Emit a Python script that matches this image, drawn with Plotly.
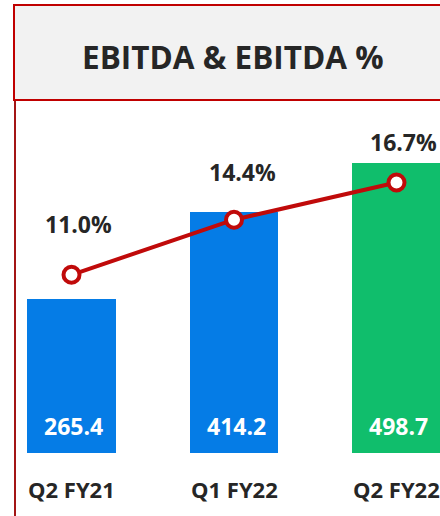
import plotly.graph_objects as go

categories = ["Q2 FY21", "Q1 FY22", "Q2 FY22"]
ebitda = [265.4, 414.2, 498.7]
ebitda_pct = [11.0, 14.4, 16.7]
bar_labels = ["265.4", "414.2", "498.7"]
pct_labels = ["11.0%", "14.4%", "16.7%"]
title_text = "EBITDA & EBITDA %"

# styles
W, H = 440, 516
bar_colors = ["#057CE6", "#057CE6", "#10BE6C"]
line_color = "#C00A0A"
text_color = "#262626"
font_family = "Open Sans"
pct_label_shift = [(7, 51), (8, 48), (7, 40)]  # (xshift, yshift) pixels
bar_label_shift = 27
cat_label_y_px = 489

x_pos = list(range(len(categories)))

fig = go.Figure()
fig.add_trace(go.Bar(
    x=x_pos, y=ebitda, width=0.547,
    marker=dict(color=bar_colors, line=dict(width=0)),
    hoverinfo="skip", showlegend=False,
))
fig.add_trace(go.Scatter(
    x=x_pos, y=ebitda_pct, yaxis="y2", mode="lines+markers",
    line=dict(color=line_color, width=4),
    marker=dict(size=16, color="white", line=dict(color=line_color, width=4)),
    hoverinfo="skip", showlegend=False,
))

annotations = []
# title
annotations.append(dict(
    text="<b>" + title_text + "</b>", x=233 / W, y=1 - 57 / H, xref="paper", yref="paper",
    showarrow=False, xanchor="center", yanchor="middle",
    font=dict(family=font_family, size=31.5, color=text_color),
))
for i, cat in enumerate(categories):
    annotations.append(dict(
        text="<b>" + pct_labels[i] + "</b>", x=x_pos[i], y=ebitda_pct[i], xref="x", yref="y2",
        showarrow=False, xanchor="center", yanchor="middle",
        xshift=pct_label_shift[i][0], yshift=pct_label_shift[i][1],
        font=dict(family=font_family, size=23, color=text_color),
    ))
    annotations.append(dict(
        text="<b>" + bar_labels[i] + "</b>", x=x_pos[i], y=0, xref="x", yref="y",
        showarrow=False, xanchor="center", yanchor="middle", xshift=2, yshift=bar_label_shift,
        font=dict(family=font_family, size=23, color="white"),
    ))
    annotations.append(dict(
        text="<b>" + cat + "</b>", x=x_pos[i], y=1 - cat_label_y_px / H, xref="x", yref="paper",
        showarrow=False, xanchor="center", yanchor="middle",
        font=dict(family=font_family, size=22, color=text_color),
    ))

shapes = [
    dict(type="rect", xref="paper", yref="paper", x0=14 / W, x1=1.05,
         y0=1 - 100 / H, y1=1 - 5 / H, fillcolor="#F2F2F2",
         line=dict(color="#C00000", width=2), layer="below"),
    dict(type="line", xref="paper", yref="paper", x0=15 / W, x1=15 / W,
         y0=-0.01, y1=1 - 101 / H, line=dict(color="#A31515", width=2)),
]

px_per_cat = 162.5
center0 = 71.5
x_range = [-center0 / px_per_cat, (W - center0) / px_per_cat]
base_px = 453
y1_scale = 0.581
y2_scale = 16.2
y_range = [-(H - base_px) / y1_scale, base_px / y1_scale]
y2_range = [-(H - base_px) / y2_scale, base_px / y2_scale]

fig.update_layout(
    width=W, height=H,
    margin=dict(l=0, r=0, t=0, b=0),
    paper_bgcolor="white", plot_bgcolor="white",
    xaxis=dict(range=x_range, visible=False, fixedrange=True),
    yaxis=dict(range=y_range, visible=False, fixedrange=True),
    yaxis2=dict(range=y2_range, visible=False, overlaying="y", fixedrange=True),
    annotations=annotations, shapes=shapes, bargap=0,
    showlegend=False,
)

fig.write_html(
    "out.html",
    config={"displayModeBar": False},
    post_script="document.body.style.margin='0';document.body.style.overflow='hidden';",
)
